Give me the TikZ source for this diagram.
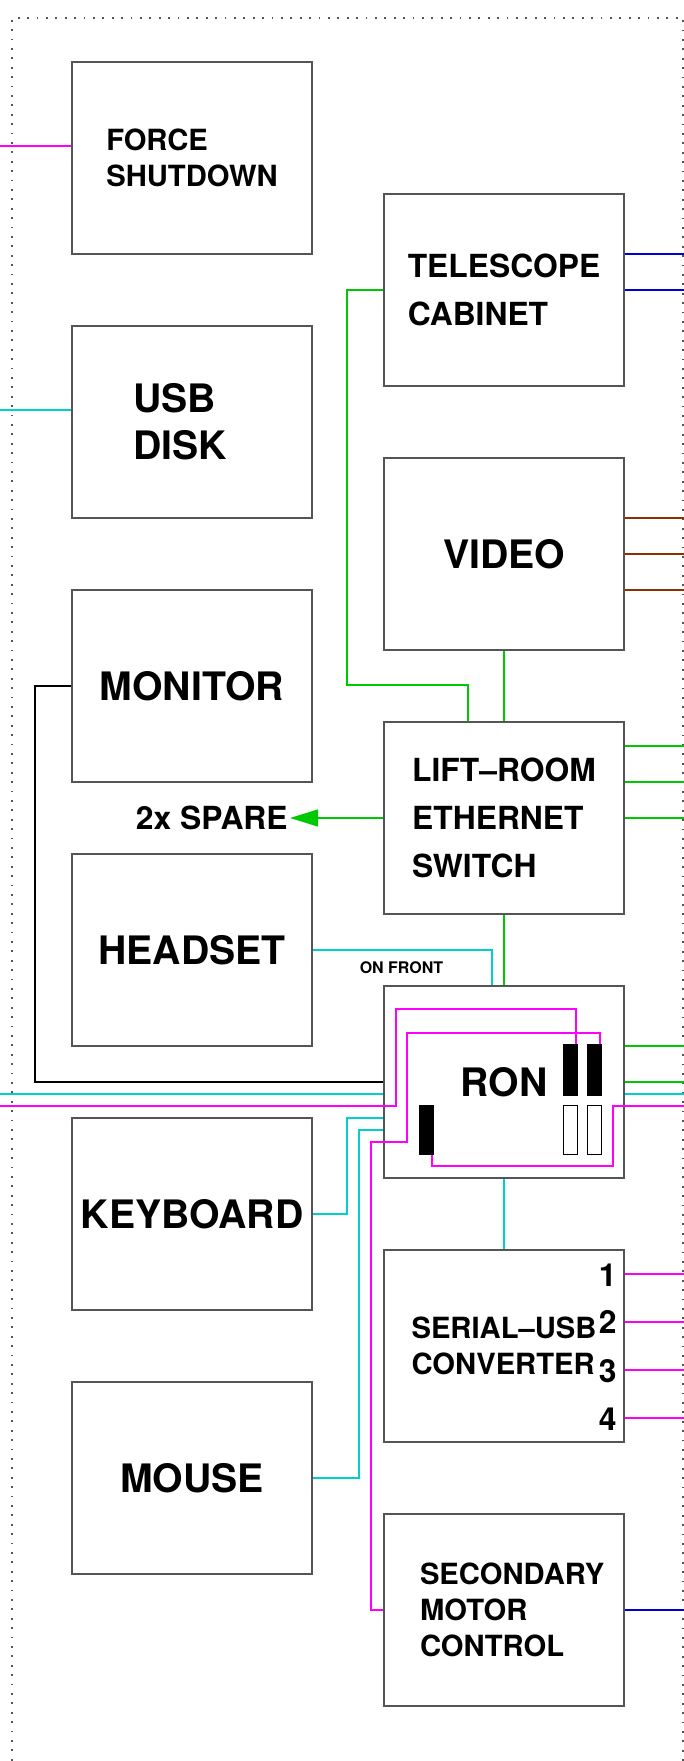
\documentclass[tikz,border=0pt]{standalone}
\usepackage{fontspec}
\setmainfont{TeX Gyre Heros}
\usetikzlibrary{arrows.meta}

\definecolor{netgreen}{RGB}{0,200,0}
\definecolor{usbcyan}{RGB}{0,206,209}
\definecolor{rsmagenta}{RGB}{255,0,255}
\definecolor{telblue}{RGB}{0,0,215}
\definecolor{vidbrown}{RGB}{140,48,0}
\definecolor{boxgray}{RGB}{85,85,85}

\begin{document}
\begin{tikzpicture}[
  x=0.5pt, y=-0.5pt,
  unit/.style={draw=boxgray, line width=0.75pt, minimum width=120pt, minimum height=96pt,
    inner sep=0pt, align=left, font=\bfseries\fontsize{15.9}{24}\selectfont},
  big/.style={font=\bfseries\fontsize{19.6}{23.5}\selectfont},
  slim/.style={font=\bfseries\fontsize{14.6}{18}\selectfont},
  tag/.style={font=\bfseries\fontsize{15.9}{24}\selectfont, inner sep=0pt},
  plug/.style={draw=black, line width=0.6pt, fill=black, minimum width=6.75pt,
    minimum height=25pt, inner sep=0pt},
  socket/.style={plug, fill=white, minimum height=24.3pt},
  cable/.style={line width=1pt},
  eth/.style={cable, netgreen},
  usbline/.style={cable, usbcyan},
  rsline/.style={cable, rsmagenta},
  telline/.style={cable, telblue},
  vidline/.style={cable, vidbrown}
]
  \useasboundingbox (0,0) rectangle (684,1761);
  \coordinate (lrim) at (0,0);
  \coordinate (rim) at (684,0);

  % cut-out frame
  \draw[boxgray, line width=0.9pt, dash pattern=on 0.9pt off 3.8pt]
    (683,1761) -- (683,18) -- (12,18) -- (12,1761);

  % left column
  \node[unit, slim] (force) at (192,158) {FORCE\\SHUTDOWN};
  \node[unit, big, text width=59pt, inner xsep=30.5pt] (usb) at (192,422) {USB\\DISK};
  \node[unit, big] (mon) at (192,686) {MONITOR};
  \node[unit, big] (hs) at (192,950) {HEADSET};
  \node[unit, big] (kb) at (192,1214) {KEYBOARD};
  \node[unit, big] (ms) at (192,1478) {MOUSE};

  % right column
  \node[unit] (tel) at (504,290) {TELESCOPE\\CABINET};
  \node[unit, big] (vid) at (504,554) {VIDEO};
  \node[unit] (sw) at (504,818) {LIFT--ROOM\\ETHERNET\\SWITCH};
  \node[unit, big] (ron) at (504,1082) {RON};
  \node[unit, slim] (ser) at (504,1346) {SERIAL--USB\\CONVERTER};
  \node[unit, slim, text width=84pt, inner xsep=18pt] (sec) at (504,1610) {SECONDARY\\MOTOR\\CONTROL};

  % ports on RON and the converter
  \node[plug] (pa) at (570.5,1070) {};
  \node[plug] (pb) at (594.5,1070) {};
  \node[socket] (sa) at (570.5,1130) {};
  \node[socket] (sb) at (594.5,1130) {};
  \node[plug, minimum height=24.3pt] (pc) at (426.5,1130) {};
  \node[tag, anchor=east] (p1) at (617,1275) {1};
  \node[tag, anchor=east] (p2) at (617,1322) {2};
  \node[tag, anchor=east] (p3) at (617,1371) {3};
  \node[tag, anchor=east] (p4) at (617,1419) {4};

  \node[tag, anchor=east, inner sep=1pt] (spare) at (290,818) {2x SPARE};
  \node[font=\bfseries\fontsize{8}{10}\selectfont] (front) at (401.5,968) {ON FRONT};

  % left side cables
  \draw[rsline] ([yshift=6pt]force.west -| lrim) -- ([yshift=6pt]force.west);
  \draw[usbline] ([yshift=6pt]usb.west -| lrim) -- ([yshift=6pt]usb.west);
  \draw[cable] (mon.west) -- ++(-36,0) |- (ron.west);
  \draw[usbline] (hs.east) -| ([xshift=-6pt]ron.north);
  \draw[usbline] (kb.east) -| ([xshift=-18pt,yshift=-18pt]ron.west) -- ([yshift=-18pt]ron.west);
  \draw[usbline] (ms.east) -| ([xshift=-12pt,yshift=-24pt]ron.west) -- ([yshift=-24pt]ron.west);
  \draw[usbline] ([yshift=-6pt]ron.west -| lrim) -- ([yshift=-6pt]ron.west);

  % ethernet
  \draw[eth] (tel.west) -- ++(-36,0) |- ([xshift=-18pt,yshift=18pt]sw.north) -- ([xshift=-18pt]sw.north);
  \draw[eth] (vid.south) -- (sw.north);
  \draw[eth] (sw.south) -- (ron.north);
  \draw[eth, -{Triangle[length=14pt,width=8.4pt]}] (sw.west) -- (spare.east);
  \draw[eth] ([yshift=36pt]sw.east) -- ([yshift=36pt]sw.east -| rim);
  \draw[eth] ([yshift=18pt]sw.east) -- ([yshift=18pt]sw.east -| rim);
  \draw[eth] (sw.east) -- (sw.east -| rim);
  \draw[eth] ([yshift=18pt]ron.east) -- ([yshift=18pt]ron.east -| rim);
  \draw[eth] (ron.east) -- (ron.east -| rim);

  % right side cables
  \draw[telline] ([yshift=18pt]tel.east) -- ([yshift=18pt]tel.east -| rim);
  \draw[telline] (tel.east) -- (tel.east -| rim);
  \draw[vidline] ([yshift=18pt]vid.east) -- ([yshift=18pt]vid.east -| rim);
  \draw[vidline] (vid.east) -- (vid.east -| rim);
  \draw[vidline] ([yshift=-18pt]vid.east) -- ([yshift=-18pt]vid.east -| rim);
  \draw[usbline] ([yshift=-6pt]ron.east) -- ([yshift=-6pt]ron.east -| rim);
  \draw[usbline] (ron.south) -- (ser.north);
  \draw[rsline] ([yshift=36pt]ser.east) -- ([yshift=36pt]ser.east -| rim);
  \draw[rsline] ([yshift=12pt]ser.east) -- ([yshift=12pt]ser.east -| rim);
  \draw[rsline] ([yshift=-12pt]ser.east) -- ([yshift=-12pt]ser.east -| rim);
  \draw[rsline] ([yshift=-36pt]ser.east) -- ([yshift=-36pt]ser.east -| rim);
  \draw[telline] (sec.east) -- (sec.east -| rim);

  % serial wiring through RON
  \draw[rsline] ([yshift=-12pt]ron.west -| lrim) -- ++(396,0)
    |- ([xshift=-0.75pt,yshift=17.5pt]pa.north east) -- ([xshift=-0.75pt]pa.north east);
  \draw[rsline] (sec.west) -| ([xshift=-6pt,yshift=-30pt]ron.west) -- ++(36,0)
    |- ([xshift=-0.75pt,yshift=5.5pt]pb.north east) -- ([xshift=-0.75pt]pb.north east);
  \draw[rsline] ([yshift=-12pt]ron.east -| rim) -- ++(-71,0)
    |- ([xshift=-1pt,yshift=-5.75pt]pc.south east) -- ([xshift=-1pt]pc.south east);
\end{tikzpicture}
\end{document}
